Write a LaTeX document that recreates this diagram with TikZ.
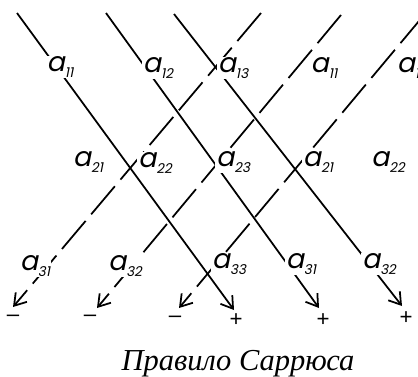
\documentclass[tikz,border=0pt]{standalone}
\usepackage{fontspec}
\setmainfont{Liberation Serif}
\setsansfont{Liberation Sans}
\newfontfamily\elfont[FakeSlant=0.2]{Poppins}
\usetikzlibrary{arrows.meta}

% element a_{ij} of the matrix
\newcommand{\el}[1]{a\raisebox{-4.5pt}{\fontsize{11.5}{11.5}\selectfont #1}}

\tikzset{
  elem/.style={fill=white, inner sep=0.6pt, font=\elfont\fontsize{23}{23}\selectfont},
  plusline/.style={line width=1.5pt, -{Straight Barb[length=3.4mm, width=4.4mm]}},
  minusline/.style={plusline, dash pattern=on 11mm off 2.6mm},
  sign/.style={inner sep=0pt, font=\sffamily\fontsize{19}{19}\selectfont},
}

\begin{document}
\begin{tikzpicture}[x=0.3mm, y=-0.3mm]
\useasboundingbox (0,0) rectangle (418,376);

% ends of the diagonals
\coordinate (p1s) at (17,13);   \coordinate (p1e) at (234,310);
\coordinate (p2s) at (106,13);  \coordinate (p2e) at (319,308);
\coordinate (p3s) at (174,14);  \coordinate (p3e) at (402,306);
\coordinate (m1s) at (261,13);  \coordinate (m1e) at (13,307);
\coordinate (m2s) at (341,15);  \coordinate (m2e) at (97,308);
\coordinate (m3s) at (424,15);  \coordinate (m3e) at (179,308);

\draw[plusline] (p1s) -- (p1e);
\draw[plusline] (p2s) -- (p2e);
\draw[plusline] (p3s) -- (p3e);
\draw[minusline] (m1s) -- (m1e);
\draw[minusline] (m2s) -- (m2e);
\draw[minusline] (m3s) -- (m3e);

% the matrix and its first two columns again
\node[elem] (a11) at (60,67) {\el{11}};
\node[elem] (a12) at (158,68) {\el{12}};
\node[elem] (a13) at (233,68) {\el{13}};
\node[elem] (a11b) at (324,68) {\el{11}};
\node[elem] (a12b) at (412,68) {\el{12}};

\node[elem] (a21) at (88,162) {\el{21}};
\node[elem] (a22) at (155,163) {\el{22}};
\node[elem] (a23) at (233,162) {\el{23}};
\node[elem] (a21b) at (318,162) {\el{21}};
\node[elem] (a22b) at (388,162) {\el{22}};

\node[elem] (a31) at (35,266) {\el{31}};
\node[elem] (a32) at (125,266) {\el{32}};
\node[elem] (a33) at (229,264) {\el{33}};
\node[elem] (a31b) at (301,264) {\el{31}};
\node[elem] (a32b) at (379,264) {\el{32}};

% signs of the products
\node[sign] (mn1) at (13,318) {–};
\node[sign] (mn2) at (90,318) {–};
\node[sign] (mn3) at (175,319) {–};
\node[sign] (pl1) at (236,320) {+};
\node[sign] (pl2) at (323,320) {+};
\node[sign] (pl3) at (406,318) {+};

\node[anchor=base, inner sep=0pt, font=\itshape\fontsize{26}{26}\selectfont] (title) at (238,370) {Правило Саррюса};
\end{tikzpicture}
\end{document}
